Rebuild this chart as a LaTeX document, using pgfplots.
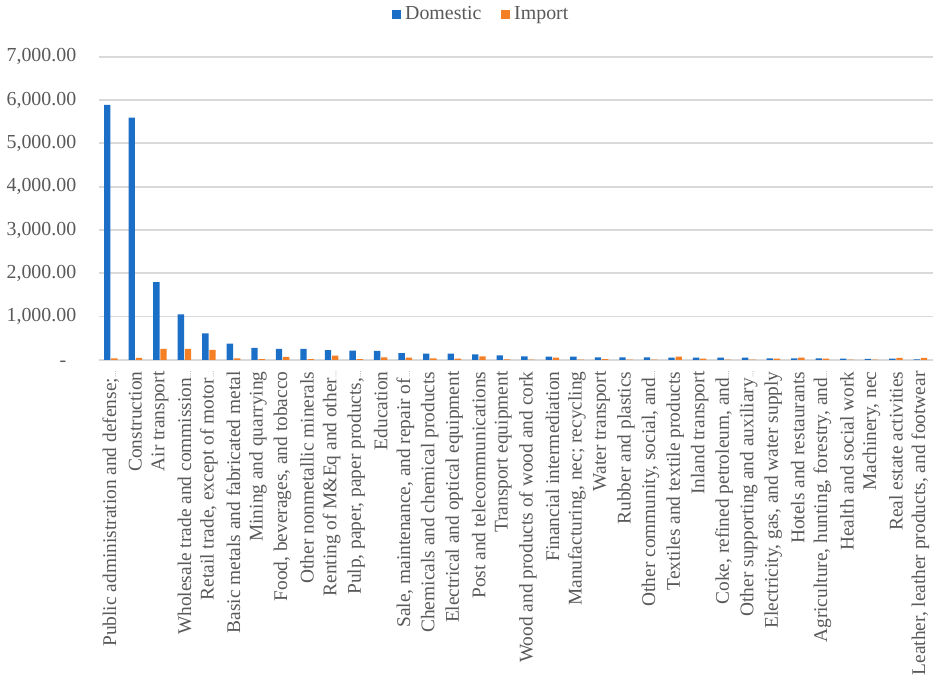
\documentclass[border=0pt]{standalone}
\usepackage{pgfplots}
\pgfplotsset{compat=1.18}
\usepackage{fontspec}
\setmainfont{Liberation Serif}
\definecolor{dom}{HTML}{1B6FC6}
\definecolor{imp}{HTML}{F47F24}
\definecolor{txt}{HTML}{595959}
\definecolor{grd}{HTML}{D9D9D9}
\newcommand\el{{\fontsize{3.2}{4}\selectfont …}}
\begin{document}
\begin{tikzpicture}
\path (-48pt,-159pt) rectangle (420pt,181pt);
\begin{axis}[
  scale only axis,
  width=419.5pt, height=152.5pt,
  at={(0,0)}, anchor=south west,
  ybar=0.4pt, bar width=3.2pt,
  xmin=0.5, xmax=34.5, ymin=0, ymax=7000,
  xtick={1,...,34},
  ytick={0,1000,...,7000},
  yticklabels={-\phantom{0},{1,000.00},{2,000.00},{3,000.00},{4,000.00},{5,000.00},{6,000.00},{7,000.00}},
  xticklabels={
    Public administration and defense;\el,
    Construction,
    Air transport,
    Wholesale trade and commission\el,
    {Retail trade, except of motor\el},
    Basic metals and fabricated metal,
    Mining and quarrying,
    {Food, beverages, and tobacco},
    Other nonmetallic minerals,
    Renting of M\&Eq and other\el,
    {Pulp, paper, paper products,\el},
    Education,
    {Sale, maintenance, and repair of\el},
    Chemicals and chemical products,
    Electrical and optical equipment,
    Post and telecommunications,
    Transport equipment,
    Wood and products of wood and cork,
    Financial intermediation,
    {Manufacturing, nec; recycling},
    Water transport,
    Rubber and plastics,
    {Other community, social, and\el},
    Textiles and textile products,
    Inland transport,
    {Coke, refined petroleum, and\el},
    Other supporting and auxiliary\el,
    {Electricity, gas, and water supply},
    Hotels and restaurants,
    {Agriculture, hunting, forestry, and\el},
    Health and social work,
    {Machinery, nec},
    Real estate activities,
    {Leather, leather products, and footwear}},
  xticklabel style={rotate=90, anchor=east, font=\fontsize{9.75}{12}\selectfont, text=txt},
  xticklabel shift=2.3pt,
  yticklabel style={font=\fontsize{10}{12}\selectfont, text=txt, xshift=-7.7pt},
  major tick length=0pt,
  ymajorgrids, grid style={grd, line width=0.9pt},
  axis line style={draw=none},
  legend style={draw=none, fill=none, at={(0.46,1.138)}, anchor=center,
    font=\fontsize{10}{12}\selectfont, text=txt, legend columns=2,
    /tikz/every even column/.append style={column sep=8pt},
    inner sep=0pt},
]
\addplot[fill=dom, draw=none, legend image code/.code={\fill[dom] (0pt,-2.25pt) rectangle (4.5pt,2.25pt);}] coordinates {
(1,5885) (2,5595) (3,1795) (4,1050) (5,612) (6,375) (7,277) (8,255) (9,255) (10,225)
(11,215) (12,208) (13,155) (14,145) (15,145) (16,130) (17,107) (18,84) (19,76) (20,76)
(21,61) (22,61) (23,61) (24,54) (25,54) (26,54) (27,54) (28,38) (29,38) (30,38)
(31,30) (32,23) (33,30) (34,15)};
\addplot[fill=imp, draw=none, legend image code/.code={\fill[imp] (0pt,-2.25pt) rectangle (4.5pt,2.25pt);}] coordinates {
(1,38) (2,46) (3,254) (4,254) (5,230) (6,38) (7,20) (8,70) (9,20) (10,100)
(11,20) (12,60) (13,54) (14,38) (15,30) (16,84) (17,15) (18,5) (19,54) (20,5)
(21,20) (22,5) (23,5) (24,76) (25,30) (26,5) (27,5) (28,30) (29,54) (30,30)
(31,5) (32,5) (33,46) (34,46)};
\legend{Domestic,Import}
\end{axis}
\end{tikzpicture}
\end{document}
